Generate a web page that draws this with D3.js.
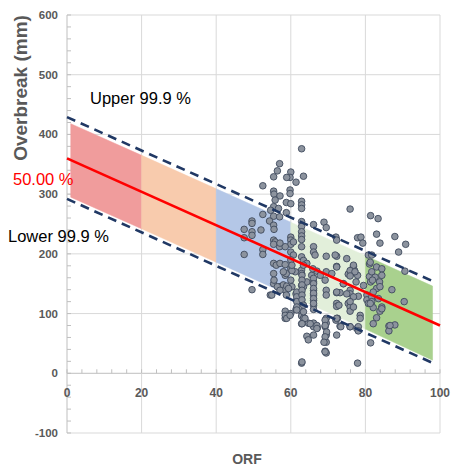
<!DOCTYPE html>
<html>
<head>
<meta charset="utf-8">
<script src="https://cdn.jsdelivr.net/npm/d3@7"></script>
<style>
  body { margin: 0; background: #fff; }
  text { font-family: "Liberation Sans", Arial, sans-serif; }
</style>
</head>
<body>
<svg id="chart"></svg>
<script>
// scatter points: ORF, overbreak (mm)
const orf = [
  62.9, 57.0, 56.4, 55.4, 60.0, 59.8, 58.9, 61.4, 63.4, 52.5, 55.4, 55.5, 59.8, 59.8, 57.1, 55.8,
  58.8, 60.0, 62.9, 62.9, 62.9, 55.4, 56.7, 54.6, 75.9, 52.5, 55.4, 57.0, 58.8, 81.4, 83.4, 49.6,
  49.6, 54.3, 55.4, 55.5, 47.5, 62.9, 62.9, 66.1, 68.9, 69.5, 62.9, 62.9, 62.9, 60.0, 60.0, 60.0,
  60.7, 72.1, 72.3, 77.9, 78.8, 79.3, 83.0, 83.9, 87.9, 90.8, 88.9, 49.6, 49.6, 47.5, 52.0, 52.5,
  52.5, 47.5, 55.4, 55.8, 55.4, 57.0, 58.5, 57.1, 62.9, 66.1, 66.1, 69.5, 66.5, 60.0, 60.7, 62.9,
  63.4, 60.0, 72.3, 72.3, 76.8, 77.1, 80.8, 81.7, 81.1, 83.0, 84.4, 90.6, 55.4, 56.1, 57.1, 58.5,
  55.4, 58.5, 58.8, 60.0, 61.2, 62.9, 62.9, 64.3, 65.6, 67.0, 67.9, 69.5, 69.2, 71.0, 74.1, 75.4,
  76.3, 77.5, 77.9, 79.5, 81.1, 81.4, 82.6, 83.0, 83.8, 84.4, 87.1, 57.1, 58.0, 58.5, 55.4, 54.5,
  49.6, 58.8, 60.0, 60.3, 61.4, 61.6, 62.9, 62.9, 63.4, 64.3, 66.1, 66.1, 66.1, 66.1, 66.1, 66.1,
  69.5, 69.5, 72.3, 73.2, 75.9, 75.9, 78.1, 80.4, 80.4, 80.8, 81.7, 81.7, 82.1, 84.4, 83.0, 83.9,
  90.4, 72.3, 72.3, 75.4, 75.9, 75.9, 58.5, 58.9, 58.5, 60.0, 61.4, 62.9, 62.9, 63.4, 62.9, 64.7,
  66.1, 66.1, 67.1, 69.5, 69.5, 69.2, 72.5, 72.1, 73.2, 75.9, 77.7, 78.1, 78.1, 72.3, 64.3, 64.7,
  66.1, 69.5, 69.5, 69.2, 69.5, 81.4, 86.3, 87.9, 86.3, 62.9, 77.9,
  55.5, 56.4, 57.1, 58.9, 59.4, 58.5, 58.9, 59.8, 61.6, 61.6, 61.6, 61.6, 61.6, 63.0, 63.0, 63.0,
  63.0, 63.0, 63.0, 63.4, 63.4, 63.8, 63.0, 65.2, 65.9, 66.1, 66.1, 66.1, 66.1, 66.1, 66.1, 67.0,
  67.0, 69.2, 69.2, 69.6, 69.2, 68.9, 69.2, 71.9, 72.3, 72.3, 72.9, 72.3, 73.4, 63.0, 54.9, 58.0,
  60.3, 60.3, 63.4,
  75.0, 74.1, 75.0, 76.8, 75.9, 76.8, 78.6, 78.6, 75.9, 81.3, 81.7, 81.9, 83.9, 82.1, 83.5, 81.3,
  84.4, 86.6, 82.1, 76.8, 75.9, 77.2, 75.9
];
const overbreak = [
  376, 351, 339, 329, 337, 328, 328, 320, 330, 314, 305, 300, 307, 301, 297, 290,
  286, 284, 288, 282, 276, 279, 276, 273, 275, 266, 263, 262, 269, 264, 259, 255,
  251, 255, 248, 241, 241, 254, 246, 249, 253, 244, 237, 230, 224, 228, 223, 216,
  220, 228, 223, 227, 228, 218, 233, 218, 229, 216, 203, 237, 231, 227, 240, 207,
  199, 199, 223, 220, 216, 212, 212, 218, 212, 212, 203, 196, 198, 203, 198, 195,
  189, 190, 196, 179, 179, 172, 198, 198, 183, 178, 175, 171, 184, 181, 184, 182,
  167, 164, 167, 175, 170, 173, 167, 184, 164, 171, 164, 170, 156, 167, 150, 166,
  168, 153, 164, 147, 162, 153, 161, 142, 153, 164, 140, 145, 148, 140, 150, 131,
  140, 131, 156, 145, 133, 123, 147, 136, 145, 153, 153, 139, 131, 122, 114, 107,
  139, 131, 135, 135, 139, 133, 129, 131, 123, 117, 128, 120, 110, 111, 93, 104,
  120, 117, 112, 117, 111, 104, 104, 97, 92, 100, 107, 103, 96, 92, 83, 84,
  84, 78, 76, 84, 92, 78, 92, 89, 79, 78, 75, 78, 71, 64, 62, 56,
  64, 64, 52, 37, 34, 51, 79, 81, 71, 17, 17,
  156, 145, 139, 146, 142, 97, 92, 97, 136, 128, 120, 111, 106, 164, 156, 148,
  139, 131, 123, 114, 103, 92, 83, 83, 175, 159, 150, 142, 134, 125, 117, 80,
  75, 89, 80, 69, 61, 52, 36, 198, 178, 136, 114, 92, 78, 19, 131, 170,
  172, 181, 181,
  192, 150, 133, 128, 120, 111, 97, 92, 78, 186, 170, 156, 145, 136, 125, 117,
  108, 80, 83, 181, 172, 170, 163
];

// regression line and 99.9 % limits (end points)
const fitX = [0, 100];
const fitY = [360, 80];
const limX = [0, 98.5];
const upperY = [429, 153];
const lowerY = [292, 16];

// shaded band, split by ORF class
const bandX = [1, 20, 40, 60, 80, 98];
const bandTop = [418, 365, 309, 253, 197, 146];
const bandBot = [295, 242, 186, 130, 74, 22];
const bandColors = ['#f09c9c', '#f8cbad', '#b4c7e7', '#e2efda', '#a9d18e'];

const xTicks = [0, 20, 40, 60, 80, 100];
const yTicks = [-100, 0, 100, 200, 300, 400, 500, 600];

const width = 451, height = 467;
const margin = { top: 15, right: 11, bottom: 34, left: 67 };

const svg = d3.select('#chart')
  .attr('width', width)
  .attr('height', height);

const innerW = width - margin.left - margin.right;
const innerH = height - margin.top - margin.bottom;

const chart = svg.append('g')
  .attr('transform', `translate(${margin.left}, ${margin.top})`);

const x = d3.scaleLinear().domain([0, 100]).range([0, innerW]);
const y = d3.scaleLinear().domain([-100, 600]).range([innerH, 0]);

// grid
chart.append('g')
  .selectAll('line')
  .data(yTicks)
  .join('line')
  .attr('x1', 0).attr('x2', innerW)
  .attr('y1', d => y(d)).attr('y2', d => y(d))
  .attr('stroke', d => d === 0 ? '#bfbfbf' : '#d9d9d9')
  .attr('stroke-width', 1);

chart.append('g')
  .selectAll('line')
  .data(xTicks)
  .join('line')
  .attr('x1', d => x(d)).attr('x2', d => x(d))
  .attr('y1', 0).attr('y2', innerH)
  .attr('stroke', d => d === 0 ? '#bfbfbf' : '#d9d9d9')
  .attr('stroke-width', 1);

// minor ticks
chart.append('g')
  .selectAll('line')
  .data(d3.range(0, 101, 4))
  .join('line')
  .attr('x1', d => x(d)).attr('x2', d => x(d))
  .attr('y1', y(0)).attr('y2', y(0) - 4)
  .attr('stroke', '#bfbfbf');

chart.append('g')
  .selectAll('line')
  .data(d3.range(-100, 601, 20))
  .join('line')
  .attr('x1', 0).attr('x2', 4)
  .attr('y1', d => y(d)).attr('y2', d => y(d))
  .attr('stroke', '#bfbfbf');

// bands
const segs = bandColors.map((c, i) => ({
  color: c,
  pts: [[bandX[i], bandTop[i]], [bandX[i + 1], bandTop[i + 1]],
        [bandX[i + 1], bandBot[i + 1]], [bandX[i], bandBot[i]]]
}));

chart.append('g')
  .selectAll('path')
  .data(segs)
  .join('path')
  .attr('d', d => d3.line().x(p => x(p[0])).y(p => y(p[1]))(d.pts) + 'Z')
  .attr('fill', d => d.color)
  .attr('stroke', d => d.color)
  .attr('stroke-width', 0.5);

// points
chart.append('g')
  .selectAll('circle')
  .data(orf.map((v, i) => [v, overbreak[i]]))
  .join('circle')
  .attr('cx', d => x(d[0]))
  .attr('cy', d => y(d[1]))
  .attr('r', 3.3)
  .attr('fill', '#8c939e')
  .attr('stroke', '#3f4b5e')
  .attr('stroke-width', 0.9);

const line = d3.line().x(d => x(d[0])).y(d => y(d[1]));

chart.append('path')
  .attr('d', line(limX.map((v, i) => [v, upperY[i]])))
  .attr('stroke', '#203864').attr('stroke-width', 2.6)
  .attr('stroke-dasharray', '9,6').attr('fill', 'none');

chart.append('path')
  .attr('d', line(limX.map((v, i) => [v, lowerY[i]])))
  .attr('stroke', '#203864').attr('stroke-width', 2.6)
  .attr('stroke-dasharray', '9,6').attr('fill', 'none');

chart.append('path')
  .attr('d', line(fitX.map((v, i) => [v, fitY[i]])))
  .attr('stroke', '#ff0000').attr('stroke-width', 2.6)
  .attr('fill', 'none');

// tick labels
chart.append('g')
  .selectAll('text')
  .data(yTicks)
  .join('text')
  .attr('x', -9)
  .attr('y', d => y(d))
  .attr('dy', '0.35em')
  .attr('text-anchor', 'end')
  .attr('font-size', 11.5)
  .attr('font-weight', 'bold')
  .attr('fill', '#595959')
  .text(d => d);

chart.append('g')
  .selectAll('text')
  .data(xTicks)
  .join('text')
  .attr('x', d => x(d))
  .attr('y', y(0) + 20)
  .attr('dy', '0.35em')
  .attr('text-anchor', 'middle')
  .attr('font-size', 12)
  .attr('font-weight', 'bold')
  .attr('fill', '#595959')
  .text(d => d);

// axis titles
svg.append('text')
  .attr('x', 247)
  .attr('y', 464)
  .attr('text-anchor', 'middle')
  .attr('font-size', 14)
  .attr('font-weight', 'bold')
  .attr('fill', '#595959')
  .text('ORF');

svg.append('text')
  .attr('transform', 'rotate(-90)')
  .attr('x', -88)
  .attr('y', 27)
  .attr('text-anchor', 'middle')
  .attr('font-size', 19)
  .attr('font-weight', 'bold')
  .attr('fill', '#595959')
  .text('Overbreak (mm)');

// annotations
svg.append('text')
  .attr('x', 90).attr('y', 104)
  .attr('font-size', 16.5)
  .attr('fill', '#000')
  .text('Upper 99.9 %');

svg.append('text')
  .attr('x', 13).attr('y', 185)
  .attr('font-size', 16.5)
  .attr('fill', '#ff0000')
  .text('50.00 %');

svg.append('text')
  .attr('x', 8).attr('y', 242)
  .attr('font-size', 16.5)
  .attr('fill', '#000')
  .text('Lower 99.9 %');
</script>
</body>
</html>
